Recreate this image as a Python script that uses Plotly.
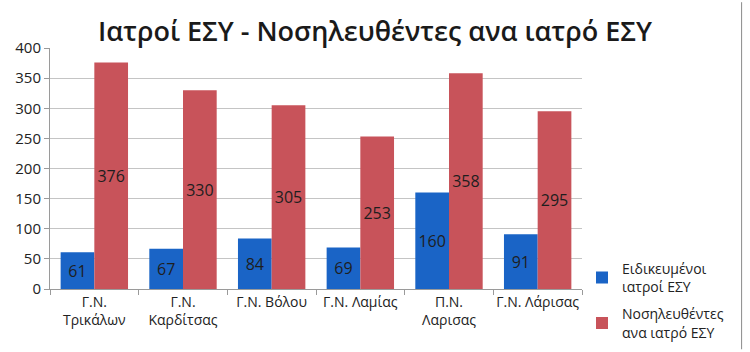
import plotly.graph_objects as go

categories = ["Γ.Ν.<br>Τρικάλων", "Γ.Ν.<br>Καρδίτσας", "Γ.Ν. Βόλου", "Γ.Ν. Λαμίας", "Π.Ν.<br>Λαρισας", "Γ.Ν. Λάρισας"]
doctors = [61, 67, 84, 69, 160, 91]
patients_per_doctor = [376, 330, 305, 253, 358, 295]
series_names = ["Ειδικευμένοι<br>ιατροί ΕΣΥ", "Νοσηλευθέντες<br>ανα ιατρό ΕΣΥ"]
y_ticks = [0, 50, 100, 150, 200, 250, 300, 350, 400]

FONT = "Open Sans"

fig = go.Figure()
fig.add_trace(go.Bar(
    x=categories, y=doctors, name=series_names[0], legendgroup="a",
    marker=dict(color="#1a64c6", line=dict(width=0)),
    text=doctors, textposition="inside", insidetextanchor="middle",
    textangle=0, textfont=dict(color="#1e1e1e", size=16, family=FONT),
))
fig.add_trace(go.Bar(
    x=categories, y=patients_per_doctor, name=series_names[1], legendgroup="b",
    marker=dict(color="#c8535a", line=dict(width=0)),
    text=patients_per_doctor, textposition="inside", insidetextanchor="middle",
    textangle=0, textfont=dict(color="#1e1e1e", size=16, family=FONT),
))

fig.update_layout(
    width=750, height=352,
    margin=dict(l=50, r=168, t=48, b=63, autoexpand=False),
    paper_bgcolor="white", plot_bgcolor="white",
    barmode="group", bargap=0.24, bargroupgap=0,
    font=dict(family=FONT, color="#222222", size=14),
    title=dict(text="Ιατροί ΕΣΥ - Νοσηλευθέντες ανα ιατρό ΕΣΥ",
               x=0.5, xref="container", xanchor="center", y=0.91, yanchor="middle",
               font=dict(family=FONT, size=27, color="#1a1a1a", weight=600)),
    legend=dict(x=1.0, y=0.15, xanchor="left", yanchor="top",
                font=dict(size=14, color="#222222"), tracegroupgap=6,
                traceorder="grouped", itemwidth=30,
                bgcolor="rgba(0,0,0,0)"),
    xaxis=dict(showline=True, linecolor="#9a9a9a", linewidth=1, automargin=False,
               ticks="outside", tickson="boundaries", ticklen=5, tickcolor="#9a9a9a",
               tickangle=0, tickfont=dict(size=14, color="#222222"), showgrid=False),
    yaxis=dict(range=[0, 400], tickvals=y_ticks, showline=True, linecolor="#9a9a9a",
               linewidth=1, ticks="outside", ticklen=5, tickcolor="#9a9a9a", automargin=False,
               gridcolor="#c4c4c4", gridwidth=1, zeroline=False,
               tickfont=dict(size=15, color="#222222")),
)
fig.add_shape(type="line", xref="paper", yref="paper", x0=1.3, x1=1.3,
              y0=-0.25, y1=1.19, layer="above", line=dict(color="#8a8a8a", width=1))

fig.write_html("out.html")
